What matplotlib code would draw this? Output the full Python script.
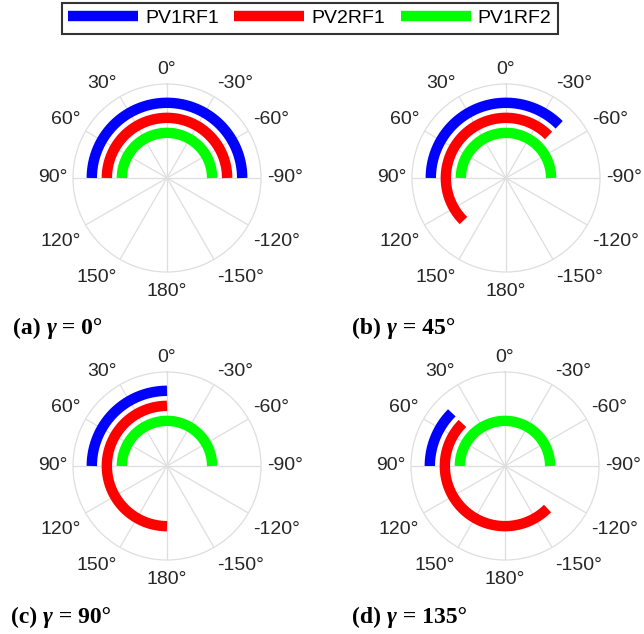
import matplotlib
matplotlib.use('Agg')
import matplotlib.pyplot as plt
import numpy as np

# series
names = ['PV1RF1', 'PV2RF1', 'PV1RF2']
colors = ['#0000ff', '#ff0000', '#00ff00']
radii = [1.0, 0.8, 0.6]

# arc spans (deg) for each gamma panel
gammas = [0, 45, 90, 135]
pv1rf1_span = [(-90, 90), (-45, 90), (0, 90), (45, 90)]
pv2rf1_span = [(-90, 90), (-45, 135), (0, 180), (45, 225)]
pv1rf2_span = [(-90, 90), (-90, 90), (-90, 90), (-90, 90)]
spans = [pv1rf1_span, pv2rf1_span, pv1rf2_span]

panel_tags = ['a', 'b', 'c', 'd']
tick_deg = np.arange(0, 360, 30)
tick_labels = ['0°', '30°', '60°', '90°', '120°', '150°', '180°',
               '-150°', '-120°', '-90°', '-60°', '-30°']

W, H = 644, 634
fig = plt.figure(figsize=(W / 100, H / 100), dpi=100)

R = 94  # px
centers = [(167, 178), (506, 178), (167, 466), (505, 466)]
caption_xy = [(13, 334), (352, 334), (11, 623), (352, 623)]
grid_col = '#dedede'
text_col = '#262626'
rmax = 1.25
cap_font = dict(family='Liberation Serif', weight='bold', size=17)

lines = []
for i, (cx, cy) in enumerate(centers):
    ax = fig.add_axes([(cx - R) / W, 1 - (cy + R) / H, 2 * R / W, 2 * R / H],
                      projection='polar')
    ax.set_theta_zero_location('N')
    ax.set_theta_direction(1)
    ax.set_ylim(0, rmax)
    ax.set_yticks([])
    ax.set_xticks(np.deg2rad(tick_deg))
    ax.set_xticklabels([])
    ax.grid(False)
    ax.spines['polar'].set_color(grid_col)
    ax.spines['polar'].set_linewidth(0.9)
    for t in tick_deg:
        ax.plot([np.deg2rad(t)] * 2, [0, rmax], color=grid_col, lw=0.9, zorder=1)

    # tick labels placed just outside the rim
    for t, lab in zip(tick_deg, tick_labels):
        th = np.deg2rad(t)
        dx, dy = -np.sin(th), np.cos(th)
        ha = 'center' if abs(dx) < 0.01 else ('left' if dx > 0 else 'right')
        va = 'center' if abs(dy) < 0.01 else ('bottom' if dy > 0 else 'top')
        ty = 0.5 + 0.53 * dy - (0.026 if va == 'top' else 0)
        ax.text(0.5 + 0.53 * dx, ty, lab, transform=ax.transAxes,
                ha=ha, va=va, fontsize=14, family='Liberation Sans', color=text_col)

    for span, r, c, name in zip(spans, radii, colors, names):
        a0, a1 = span[i]
        th = np.deg2rad(np.linspace(a0, a1, 300))
        ln, = ax.plot(th, np.full_like(th, r), color=c, lw=7.5,
                      solid_capstyle='butt', zorder=3, label=name)
        if i == 0:
            lines.append(ln)

    # caption: "(x) " bold, gamma bold italic, " = N°" bold
    x, y = caption_xy[i]
    t1 = fig.text(x / W, 1 - y / H, '(%s) ' % panel_tags[i], ha='left', va='baseline',
                  **cap_font)
    t2 = fig.text(0, 0, 'γ', style='italic', ha='left', va='baseline', **cap_font)
    t3 = fig.text(0, 0, ' = %d°' % gammas[i], ha='left', va='baseline', **cap_font)
    r_ = fig.canvas.get_renderer()
    x1 = x + t1.get_window_extent(r_).width
    t2.set_position((x1 / W, 1 - y / H))
    x2 = x1 + t2.get_window_extent(r_).width
    t3.set_position((x2 / W, 1 - y / H))

leg = fig.legend(lines, names, loc='center', bbox_to_anchor=(309.7 / W, 1 - 18.5 / H),
                 ncol=3, frameon=True, fancybox=False,
                 prop={'family': 'Liberation Sans', 'size': 14},
                 handlelength=3.6, handletextpad=0.35, columnspacing=0.8,
                 borderpad=0.35, borderaxespad=0)
leg.get_frame().set_edgecolor('black')
leg.get_frame().set_linewidth(1.5)

fig.savefig('out.png', dpi=100)
